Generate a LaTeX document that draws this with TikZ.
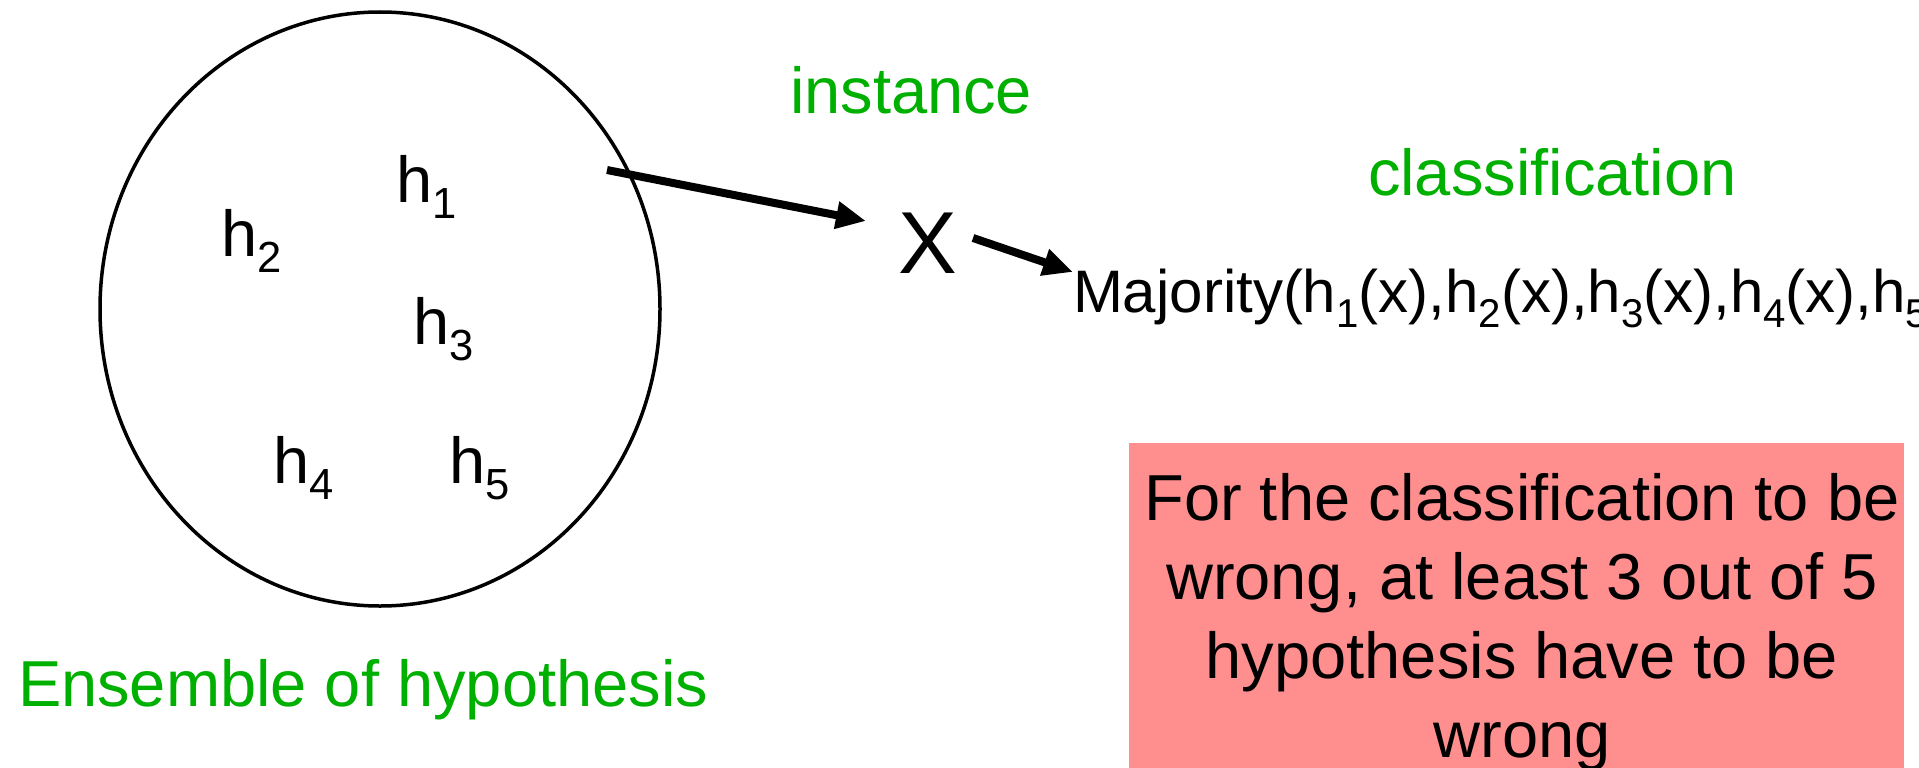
\documentclass[tikz,border=0pt]{standalone}
\usepackage{fontspec}
\setmainfont{Liberation Sans}
\usetikzlibrary{arrows.meta,shapes.geometric}
\definecolor{ppgreen}{RGB}{0,176,0}
\definecolor{pppink}{RGB}{255,143,143}
\newcommand{\hsub}[1]{h\raisebox{-0.25em}{\scalebox{0.67}{#1}}}
\begin{document}
\begin{tikzpicture}[x=1pt,y=-1pt,
  lbl/.style={inner sep=0pt, outer sep=0pt, font=\fontsize{65}{78}\selectfont},
  greentxt/.style={inner sep=0pt, outer sep=0pt, text=ppgreen, font=\fontsize{65}{78}\selectfont},
  boxtxt/.style={inner sep=0pt, outer sep=0pt, anchor=base, font=\fontsize{65}{78}\selectfont},
  arr/.style={line width=8pt, -{Triangle[length=30pt,width=26pt]}},
]
\useasboundingbox (0,0) rectangle (1919,768);
% ensemble ellipse
\node[draw, ellipse, line width=3.5pt, inner sep=0pt, minimum width=560pt, minimum height=594pt] (ens) at (380,309) {};
\node[lbl, anchor=base west] (h1) at (396,202) {\hsub{1}};
\node[lbl, anchor=base west] (h2) at (221,256) {\hsub{2}};
\node[lbl, anchor=base west] (h3) at (413,344) {\hsub{3}};
\node[lbl, anchor=base west] (h4) at (273,483) {\hsub{4}};
\node[lbl, anchor=base west] (h5) at (449,483) {\hsub{5}};
\node[greentxt, anchor=base west] (ensl) at (18,706) {Ensemble of hypothesis};
% instance
\node[greentxt, anchor=base west] (inst) at (790,113) {instance};
\node[inner sep=0pt, outer sep=0pt, anchor=base, font=\fontsize{88}{100}\selectfont] (X) at (928,273) {X};
\node[greentxt, anchor=base west] (cls) at (1368,195) {classification};
\node[inner sep=0pt, outer sep=0pt, anchor=base west, font=\fontsize{60}{72}\selectfont] (maj) at (1073,312)
  {Majority(\hsub{1}(x),\hsub{2}(x),\hsub{3}(x),\hsub{4}(x),\hsub{5}};
% arrows
\coordinate (a1s) at (607,170);
\coordinate (a1e) at (866,221);
\coordinate (a2s) at (973,238);
\coordinate (a2e) at (1073,272);
\draw[arr] (a1s) -- (a1e);
\draw[arr] (a2s) -- (a2e);
% pink box
\node[fill=pppink, draw=none, inner sep=0pt, minimum width=775pt, minimum height=325pt, anchor=north west] (box) at (1129,443) {};
\node[boxtxt] (l1) at (1522,520) {For the classification to be};
\node[boxtxt] (l2) at (1522,599) {wrong, at least 3 out of 5};
\node[boxtxt] (l3) at (1522,678) {hypothesis have to be};
\node[boxtxt] (l4) at (1522,757) {wrong};
\end{tikzpicture}
\end{document}
